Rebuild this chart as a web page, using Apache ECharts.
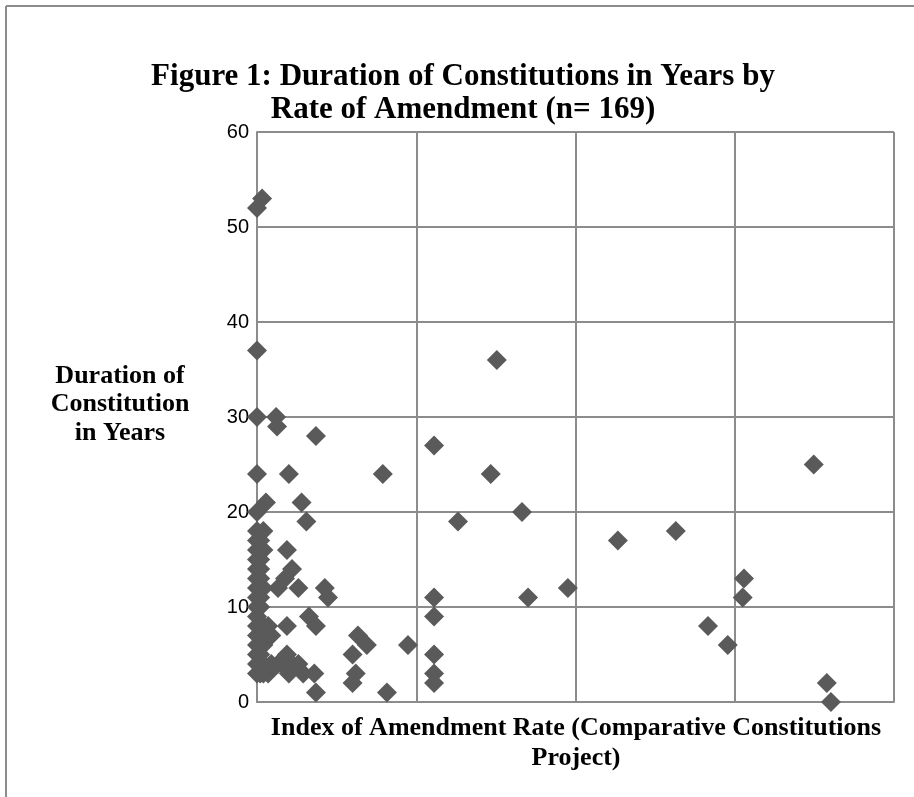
<!DOCTYPE html>
<html>
<head>
<meta charset="utf-8">
<script src="https://cdn.jsdelivr.net/npm/echarts@6/dist/echarts.min.js"></script>
<style>
html,body{margin:0;padding:0;background:#fff;}
#chart{width:914px;height:797px;}
</style>
</head>
<body>
<div id="chart"></div>
<script>
// Amendment rate index (x) and duration in years (y)
const amendmentRate = [
  0,0,0,0,0,0,0,0,0,0,0,0,0,0,0,0,0,0,0,0,0,
  0.01,0.01,0.01,0.01,0.01,0.01,0.01,0.01,0.01,0.01,0.01,0.01,0.01,0.01,
  0.02,0.02,0.02,0.02,0.02,0.02,0.02,0.02,
  0.016,0.028,0.035,0.035,0.045,0.045,
  0.06,0.063,0.1,0.14,0.155,0.185,
  0.094,0.11,0.088,0.066,0.13,
  0.213,0.223,0.094,0.163,0.185,
  0.094,0.11,0.13,0.145,0.18,0.08,0.1,0.066,0.185,
  0.317,0.345,0.30,0.31,0.30,0.408,0.474,0.395,
  0.556,0.753,0.734,0.832,0.631,0.556,0.851,0.976,0.556,0.556,0.556,0.556,
  1.748,1.133,1.315,1.529,1.525,1.416,1.478,1.789,1.802
];
const durationYears = [
  3,4,5,6,7,8,9,10,11,12,13,14,15,16,17,18,20,24,30,37,52,
  3,4,5,6,7,8,10,11,12,13,14,15,16,17,
  3,4,6,7,8,12,16,18,
  53,21,3,8,7,4,
  30,29,24,21,19,28,
  16,14,13,12,12,
  12,11,8,9,8,
  5,4,4,3,3,4,3,4,1,
  7,6,5,3,2,1,6,24,
  27,36,24,20,19,11,11,12,9,5,3,2,
  25,17,18,13,11,8,6,2,0
];
const yTicks = [0,10,20,30,40,50,60];

const points = amendmentRate.map((x,i)=>[x,durationYears[i]]);

const chart = echarts.init(document.getElementById('chart'));
const serif = '"Liberation Serif","DejaVu Serif",serif';
const gridColor = '#8c8c8c';
chart.setOption({
  backgroundColor:'#ffffff',
  animation:false,
  title:{
    text:'Figure 1: Duration of Constitutions in Years by\nRate of Amendment (n= 169)',
    left:458, top:55, textAlign:'center',
    textStyle:{fontFamily:serif,fontWeight:'bold',fontSize:31,lineHeight:33,color:'#000'}
  },
  graphic:[
    {type:'line',shape:{x1:6,y1:6,x2:6,y2:797},style:{stroke:gridColor,lineWidth:2}},
    {type:'line',shape:{x1:6,y1:6,x2:914,y2:6},style:{stroke:gridColor,lineWidth:2}},
    {type:'text',x:120,y:362,style:{text:'Duration of\nConstitution\nin Years',textAlign:'center',
      font:'bold 26px '+serif,lineHeight:28.5,fill:'#000'}},
    {type:'text',x:576,y:714,style:{text:'Index of Amendment Rate (Comparative Constitutions\nProject)',textAlign:'center',
      font:'bold 26px '+serif,lineHeight:29.5,fill:'#000'}}
  ],
  grid:{left:257,top:132,right:20,bottom:95,containLabel:false},
  xAxis:{
    type:'value',min:0,max:2,interval:0.5,
    axisLine:{show:true,lineStyle:{color:gridColor,width:2}},
    axisTick:{show:false},
    axisLabel:{show:false},
    splitLine:{show:true,lineStyle:{color:gridColor,width:2}}
  },
  yAxis:{
    type:'value',min:0,max:60,interval:10,
    axisLine:{show:true,lineStyle:{color:gridColor,width:2}},
    axisTick:{show:false},
    axisLabel:{show:true,margin:8,fontFamily:'"Liberation Sans",sans-serif',fontSize:20,color:'#000',
      formatter:v=>yTicks.includes(v)?String(v):''},
    splitLine:{show:true,lineStyle:{color:gridColor,width:2}}
  },
  series:[{
    type:'scatter',
    data:points,
    symbol:'diamond',
    symbolSize:20,
    itemStyle:{color:'#5a5a5a',opacity:1},
    clip:false
  }]
});
</script>
</body>
</html>
